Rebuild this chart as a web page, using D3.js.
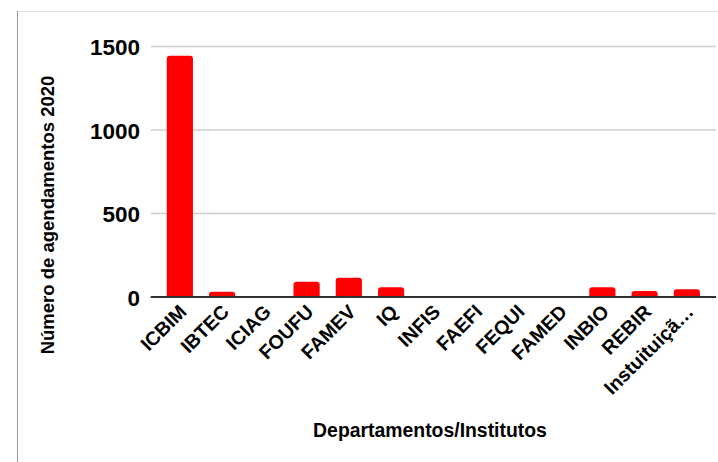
<!DOCTYPE html>
<html><head><meta charset="utf-8">
<script src="https://cdn.jsdelivr.net/npm/d3@7"></script>
<style>body{margin:0;background:#fff}svg{display:block;font-family:"Liberation Sans",Arial,sans-serif}</style>
</head><body>
<svg id="c" width="718" height="462"></svg>
<script>
const categories = ["ICBIM","IBTEC","ICIAG","FOUFU","FAMEV","IQ","INFIS","FAEFI","FEQUI","FAMED","INBIO","REBIR","Instuituiçã…"];
const values = [1445,32,0,91,115,58,0,0,0,0,58,36,46];
const yTicks = [0,500,1000,1500];

const svg = d3.select("#c");
// frame
svg.append("line").attr("x1",17).attr("x2",718).attr("y1",11.5).attr("y2",11.5).attr("stroke","#e2e2e2").attr("stroke-width",1);
svg.append("line").attr("x1",17.5).attr("x2",17.5).attr("y1",11).attr("y2",462).attr("stroke","#9a9a9a").attr("stroke-width",1);

const x = d3.scaleBand().domain(categories).range([150.7,716]).paddingInner(0.38).paddingOuter(0.38);
const y = d3.scaleLinear().domain([0,1500]).range([297,46.5]);

// gridlines
svg.append("g").selectAll("line").data(yTicks.filter(d=>d>0)).join("line")
  .attr("x1",150.7).attr("x2",716).attr("y1",d=>y(d)).attr("y2",d=>y(d))
  .attr("stroke","#cfcfcf").attr("stroke-width",1.5);

// y axis labels
const ya = svg.append("g").attr("transform","translate(140,0)")
  .call(d3.axisLeft(y).tickValues(yTicks).tickFormat(d3.format("d")).tickSize(0).tickPadding(0));
ya.select(".domain").remove();
ya.selectAll("text").attr("font-size",22.5).attr("font-weight","bold").attr("fill","#000")
  .attr("font-family","'Liberation Sans',Arial,sans-serif").attr("dy","0.36em");

// bars with rounded top
const r = 3;
svg.append("g").selectAll("path").data(categories.map((c,i)=>({c,v:values[i]})).filter(d=>d.v>0)).join("path")
  .attr("fill","#ff0000")
  .attr("d",d=>{
    const x0=x(d.c), w=x.bandwidth(), y0=y(d.v), y1=y(0);
    const rr=Math.min(r,(y1-y0));
    return `M${x0},${y1}V${y0+rr}Q${x0},${y0} ${x0+rr},${y0}H${x0+w-rr}Q${x0+w},${y0} ${x0+w},${y0+rr}V${y1}Z`;
  });

// baseline
svg.append("line").attr("x1",150.7).attr("x2",716).attr("y1",y(0)).attr("y2",y(0)).attr("stroke","#333").attr("stroke-width",2);

// x axis labels (manual, rotated -45)
svg.append("g").selectAll("text").data(categories).join("text")
  .attr("transform",d=>`translate(${x(d)+x.bandwidth()/2+8},${y(0)+16}) rotate(-45)`)
  .attr("text-anchor","end").attr("font-size",19.5).attr("font-weight","bold").attr("fill","#000")
  .text(d=>d);

// axis titles
svg.append("text").attr("x",430).attr("y",437).attr("text-anchor","middle")
  .attr("font-size",19.4).attr("font-weight","bold").text("Departamentos/Institutos");
svg.append("text").attr("transform","translate(54,215) rotate(-90)").attr("text-anchor","middle")
  .attr("font-size",18.5).attr("font-weight","bold").text("Número de agendamentos 2020");
</script>
</body></html>
